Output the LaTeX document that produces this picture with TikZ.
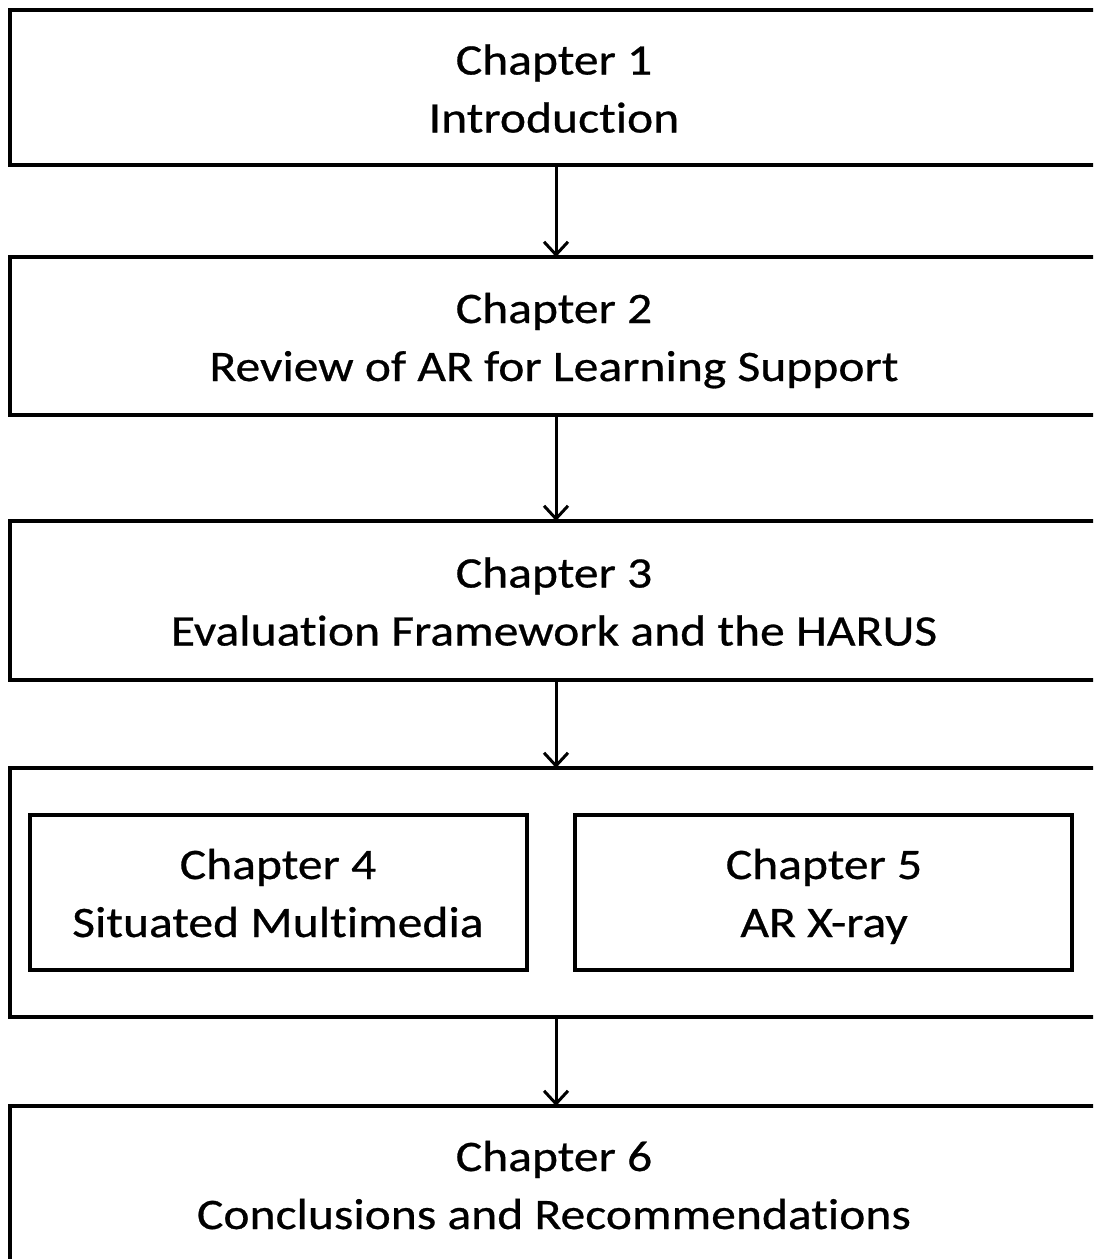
\documentclass[tikz,border=0pt]{standalone}
\usepackage{fontspec}
\setmainfont{Carlito}[FakeStretch=1.14,FakeBold=0.6,Ligatures={NoCommon}]
\usetikzlibrary{arrows.meta}
\begin{document}
\begin{tikzpicture}[x=1pt,y=-1pt,
  box/.style={draw=black,line width=3.2pt,rectangle,inner sep=0pt,outer sep=0pt},
  txt/.style={font=\fontsize{43.5}{59}\selectfont,anchor=base,inner sep=0pt},
  flow/.style={line width=3pt,-{Straight Barb[length=13pt,width=24pt,line width=3pt]}}]
\clip (0,0) rectangle (1093,1259);
\useasboundingbox (0,0) rectangle (1093,1259);
% outer boxes (right side runs off the page)
\node[box,minimum width=1092pt,minimum height=155pt] (b1) at (556,87.5) {};
\node[box,minimum width=1092pt,minimum height=158pt] (b2) at (556,336) {};
\node[box,minimum width=1092pt,minimum height=159pt] (b3) at (556,600.5) {};
\node[box,minimum width=1092pt,minimum height=249pt] (b4) at (556,892.5) {};
\node[box,minimum width=1092pt,minimum height=250pt] (b6) at (556,1231) {};
% inner boxes
\node[box,minimum width=497pt,minimum height=155pt] (b4a) at (278.5,892.5) {};
\node[box,minimum width=497pt,minimum height=155pt] (b5) at (823.5,892.5) {};
% texts
\node[txt] (c1) at (554,74.5) {Chapter 1};
\node[txt] (s1) at (554,132.5) {Introduction};
\node[txt] (c2) at (554,323) {Chapter 2};
\node[txt] (s2) at (554,381) {Review of AR for Learning Support};
\node[txt] (c3) at (554,587.5) {Chapter 3};
\node[txt] (s3) at (554,645.5) {Evaluation Framework and the HARUS};
\node[txt] (c4) at (278,879) {Chapter 4};
\node[txt] (s4) at (278,937) {Situated Multimedia};
\node[txt] (c5) at (824,879) {Chapter 5};
\node[txt] (s5) at (824,937) {AR X-ray};
\node[txt] (c6) at (554,1171) {Chapter 6};
\node[txt] (s6) at (554,1229) {Conclusions and Recommendations};
% connectors
\draw[flow] (b1.south) -- (b2.north);
\draw[flow] (b2.south) -- (b3.north);
\draw[flow] (b3.south) -- (b4.north);
\draw[flow] (b4.south) -- (b6.north);
\end{tikzpicture}
\end{document}
